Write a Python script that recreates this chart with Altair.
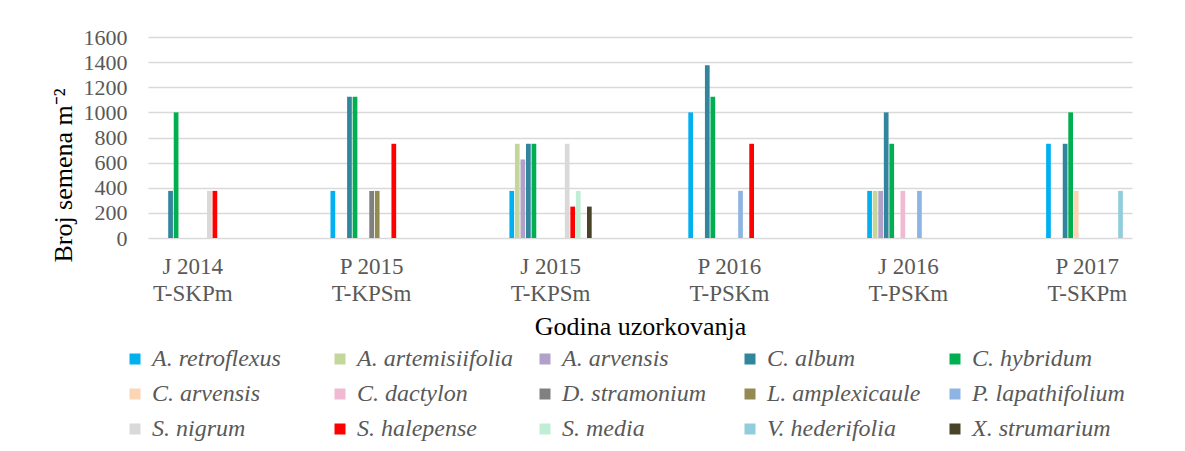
import altair as alt
import pandas as pd

categories = ["J 2014|T-SKPm", "P 2015|T-KPSm", "J 2015|T-KPSm",
              "P 2016|T-PSKm", "J 2016|T-PSKm", "P 2017|T-SKPm"]
species = ["A. retroflexus", "A. artemisiifolia", "A. arvensis", "C. album", "C. hybridum",
           "C. arvensis", "C. dactylon", "D. stramonium", "L. amplexicaule", "P. lapathifolium",
           "S. nigrum", "S. halepense", "S. media", "V. hederifolia", "X. strumarium"]
colors = ["#00B0F0", "#C4D79B", "#B1A0C7", "#31859C", "#00B050",
          "#FCD5B4", "#F0BBD2", "#808080", "#948A54", "#8DB4E2",
          "#D9D9D9", "#FF0000", "#BFEED5", "#92CDDC", "#494429"]

# values per category, in the order of `species`
j2014 = [0, 0, 0, 375, 1000, 0, 0, 0, 0, 0, 375, 375, 0, 0, 0]
p2015 = [375, 0, 0, 1125, 1125, 0, 0, 375, 375, 0, 0, 750, 0, 0, 0]
j2015 = [375, 750, 625, 750, 750, 0, 0, 0, 0, 0, 750, 250, 375, 0, 250]
p2016 = [1000, 0, 0, 1375, 1125, 0, 0, 0, 0, 375, 0, 750, 0, 0, 0]
j2016 = [375, 375, 375, 1000, 750, 0, 375, 0, 0, 375, 0, 0, 0, 0, 0]
p2017 = [750, 0, 0, 750, 1000, 375, 0, 0, 0, 0, 0, 0, 0, 375, 0]

series = [j2014, p2015, j2015, p2016, j2016, p2017]
rows = []
for cat, vals in zip(categories, series):
    for sp, v in zip(species, vals):
        rows.append({"cat": cat, "species": sp, "value": v})
df = pd.DataFrame(rows)

FONT = "Liberation Serif"

chart = alt.Chart(df).transform_filter("datum.value > 0").mark_bar().encode(
    x=alt.X("cat:N", sort=categories,
            scale=alt.Scale(paddingInner=0.54, paddingOuter=0.02),
            axis=alt.Axis(title="Godina uzorkovanja", labelExpr="split(datum.label, '|')",
                          labelAngle=0, labelFontSize=23, labelColor="#595959",
                          labelLineHeight=27, labelPadding=17, labelBaseline="top",
                          ticks=False, domain=False,
                          titleFontSize=26, titleFontWeight="normal", titleColor="#000000",
                          titleBaseline="middle", titleY=88)),
    xOffset=alt.XOffset("species:N", sort=species,
                        scale=alt.Scale(domain=species, paddingInner=0.15)),
    y=alt.Y("value:Q", scale=alt.Scale(domain=[0, 1600]),
            axis=alt.Axis(title="Broj semena m⁻²", values=list(range(0, 1601, 200)),
                          format="d",
                          labelFontSize=22, labelColor="#595959", labelPadding=21,
                          ticks=False, domain=False, grid=True, gridColor="#d9d9d9",
                          gridWidth=1.5,
                          titleFontSize=26, titleFontWeight="normal", titleColor="#000000",
                          titleX=-77, titleY=138, titleAngle=-90,
                          titleBaseline="alphabetic", titleAlign="center")),
    color=alt.Color("species:N", scale=alt.Scale(domain=species, range=colors),
                    legend=alt.Legend(orient="none", legendX=-25, legendY=310,
                                      columns=5, direction="horizontal", title=None,
                                      symbolType="square", symbolSize=121,
                                      symbolStrokeWidth=0, labelFontSize=24,
                                      labelFontStyle="italic", labelColor="#595959",
                                      labelOffset=5, columnPadding=20, rowPadding=11,
                                      gridAlign="all", labelLimit=300)),
).properties(
    width=984, height=201,
    autosize=alt.AutoSizeParams(type="none"),
    padding={"left": 140, "top": 29, "right": 45, "bottom": 205},
).configure(
    font=FONT,
).configure_view(stroke=None)

chart.save("out.html", embed_options={"renderer": "svg", "actions": False})
